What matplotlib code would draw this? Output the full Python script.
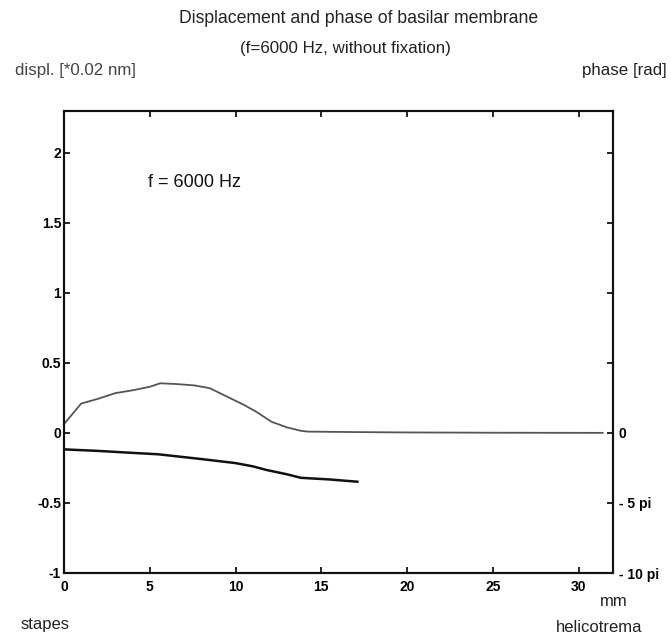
import numpy as np
import matplotlib
matplotlib.use("Agg")
import matplotlib.pyplot as plt
from matplotlib import font_manager

# ---- data ----
disp_x = [0, 1, 2, 3, 4, 5, 5.6, 6.5, 7.6, 8.5, 9.5, 10.5, 11.2, 12.1, 13.0, 13.8, 14.2, 16.6, 20, 25, 31.4]
disp_y = [0.064, 0.21, 0.245, 0.285, 0.305, 0.33, 0.355, 0.35, 0.34, 0.32, 0.26, 0.2, 0.152, 0.08, 0.04, 0.016, 0.01, 0.007, 0.004, 0.002, 0.001]

phase_x = [0, 2, 4, 5.5, 8, 10, 11, 11.8, 13, 13.8, 15.5, 17.1]
phase_pi = [-1.17, -1.28, -1.42, -1.52, -1.86, -2.15, -2.38, -2.64, -2.95, -3.2, -3.32, -3.48]  # in units of pi

xticks = [0, 5, 10, 15, 20, 25, 30]
yticks = [-1, -0.5, 0, 0.5, 1, 1.5, 2]
ytick_labels = ["-1", "-0.5", "0", "0.5", "1", "1.5", "2"]
phase_ticks_pi = [0, -5, -10]
phase_tick_labels = ["0", "- 5 pi", "- 10 pi"]

avail = {f.name for f in font_manager.fontManager.ttflist}
narrow = "Liberation Sans Narrow" if "Liberation Sans Narrow" in avail else "Liberation Sans"
plt.rcParams['font.family'] = ['Liberation Sans', 'DejaVu Sans']

fig = plt.figure(figsize=(6.71, 6.36), dpi=100)
ax = fig.add_axes([64/671, 1-573/636, (613-64)/671, (573-111)/636])

ax.plot(disp_x, disp_y, color="#555555", lw=1.3, solid_joinstyle="round")
ax.set_xlim(0, 32)
ax.set_ylim(-1, 2.3)
ax.set_xticks(xticks)
ax.set_yticks(yticks)
ax.set_yticklabels(ytick_labels)
ax.tick_params(direction="in", length=4, width=1.2, top=True, right=False,
               labelsize=10, pad=2, colors="black")
ax.tick_params(axis="x", pad=5)
for lab in ax.get_xticklabels() + ax.get_yticklabels():
    lab.set_fontweight("bold")
    lab.set_family(narrow)
for s in ax.spines.values():
    s.set_linewidth(1.5)
    s.set_color("#111111")

ax2 = ax.twinx()
ax2.set_ylim(-10*np.pi, 23*np.pi)
ax2.plot(phase_x, np.array(phase_pi)*np.pi, color="#111111", lw=1.8)
ax2.set_yticks(np.array(phase_ticks_pi)*np.pi)
ax2.set_yticklabels(phase_tick_labels)
ax2.tick_params(direction="in", length=4, width=1.2, labelsize=10, pad=4)
for lab in ax2.get_yticklabels():
    lab.set_fontweight("bold")
    lab.set_family(narrow)
ax2.set_yticks([v*10*np.pi for v in [0.5, 1, 1.5, 2]], minor=True)
ax2.tick_params(which="minor", direction="in", length=4, width=1.2)
for s in ax2.spines.values():
    s.set_linewidth(1.5)
    s.set_color("#111111")

ax.text(4.9, 1.79, "f = 6000 Hz", fontsize=13, color="#111111", va="center", ha="left")

fig.text(359/671, 1-18.5/636, "Displacement and phase of basilar membrane", ha="center", va="center",
         fontsize=12.7, color="#222222")
fig.text(345/671, 1-48/636, "(f=6000 Hz, without fixation)", ha="center", va="center",
         fontsize=12.2, color="#222222")
fig.text(15/671, 1-70/636, "displ. [*0.02 nm]", ha="left", va="center", fontsize=12.2, color="#444444")
fig.text(667/671, 1-70/636, "phase [rad]", ha="right", va="center", fontsize=12.2, color="#222222")
fig.text(614/671, 1-602/636, "mm", ha="center", va="center", fontsize=12, color="#222222")
fig.text(21/671, 1-625/636, "stapes", ha="left", va="center", fontsize=12, color="#222222")
fig.text(642/671, 1-628/636, "helicotrema", ha="right", va="center", fontsize=12, color="#222222")

fig.savefig("out.png", dpi=100)
